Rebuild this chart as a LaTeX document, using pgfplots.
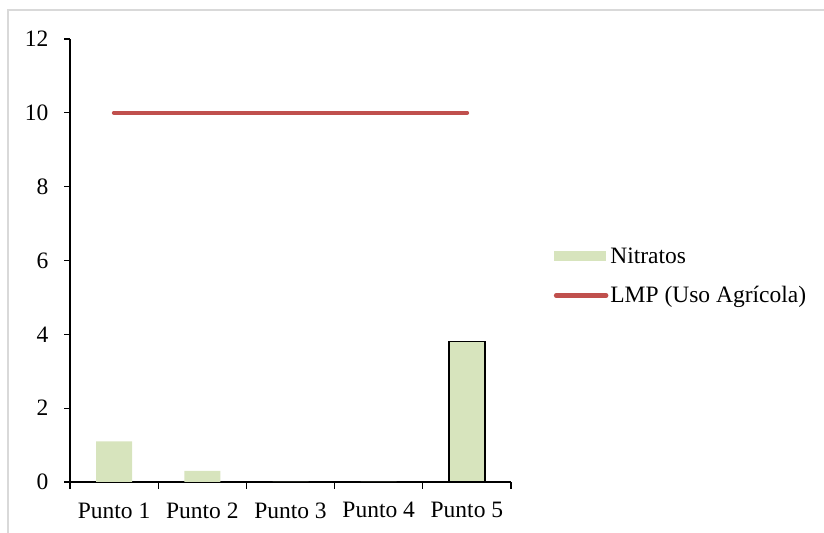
\documentclass[border=0pt]{standalone}
\usepackage{pgfplots}
\pgfplotsset{compat=1.18}
\usepackage{fontspec}
\setmainfont{Liberation Serif}

\definecolor{nitro}{HTML}{D7E4BD}
\definecolor{lmp}{HTML}{C0504D}
\definecolor{frame}{HTML}{D9D9D9}

\begin{document}
\begin{tikzpicture}[x=1bp,y=1bp,font=\fontsize{23.5bp}{27bp}\selectfont]
  \path[use as bounding box] (0,0) rectangle (824,533);
  % chart frame (top and left visible)
  \draw[frame, line width=2bp] (8,-5) -- (8,523) -- (830,523);

  \begin{axis}[
    at={(70bp,51bp)}, anchor=south west,
    scale only axis,
    width=441bp, height=443bp,
    xmin=-0.5, xmax=4.5,
    ymin=0, ymax=12,
    axis x line=bottom, axis y line=left,
    axis line style={-, black, line width=1.2bp},
    ytick={0,2,...,12},
    xtick={0,1,2,3,4},
    xticklabels={Punto 1,Punto 2,Punto 3,Punto 4,Punto 5},
    minor xtick={-0.5,0.5,1.5,2.5,3.5,4.5},
    x tick style={draw=none},
    minor x tick style={draw=black, line width=1.2bp},
    y tick style={black, line width=1.2bp},
    tick align=outside,
    major tick length=6bp,
    minor tick length=7bp,
    /pgf/number format/assume math mode=true,
    tick label style={font=\fontsize{23.5bp}{27bp}\selectfont},
    yticklabel style={xshift=-12bp},
    xticklabel style={yshift=-11bp},
    legend style={at={(1.09,0.465)}, anchor=west, draw=none, fill=none,
      row sep=18bp, font=\fontsize{23.5bp}{27bp}\selectfont,
      /tikz/every even column/.append style={column sep=0bp}},
    legend cell align=left,
    clip=false,
  ]
    \addplot[ybar, bar width=36bp, fill=nitro, draw=none,
      legend image code/.code={\fill[nitro] (-2bp,-5bp) rectangle (50bp,5bp);}]
      coordinates {(0,1.1) (1,0.3) (2,0) (3,0) (4,3.8)};
    \addlegendentry{Nitratos}
    \addplot[ybar, bar width=36bp, fill=nitro, draw=black, line width=1.3bp, forget plot]
      coordinates {(4,3.8)};
    \addplot[color=lmp, line width=4.5bp, line cap=round,
      legend image code/.code={\draw[lmp, line width=4.5bp, line cap=round] (0bp,0bp) -- (50bp,0bp);}]
      coordinates {(0,10) (4,10)};
    \addlegendentry{LMP (Uso Agrícola)}
  \end{axis}
\end{tikzpicture}
\end{document}
